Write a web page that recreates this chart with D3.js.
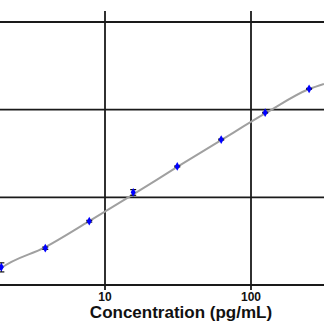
<!DOCTYPE html>
<html><head><meta charset="utf-8">
<script src="https://cdn.jsdelivr.net/npm/d3@7"></script>
<style>html,body{margin:0;padding:0;background:#fff;}svg{display:block;}</style>
</head><body>
<script>
// Standard concentrations (pg/mL) and mean OD values
const concentrations = [1.95, 3.9, 7.8, 15.6, 31.25, 62.5, 125, 250];
const odValues = [0.016, 0.0263, 0.0534, 0.114, 0.225, 0.456, 0.924, 1.73];
const odErrors = [0.0019, 0.0008, 0.0012, 0.0085, 0.003, 0.006, 0.01, 0.02];
// Fitted curve
const fitConc = [1.91, 1.95, 3.9, 7.8, 15.6, 31.25, 62.5, 125, 250, 316];
const fitOD = [0.0152, 0.0156, 0.027, 0.0535, 0.108, 0.222, 0.45, 0.905, 1.72, 1.97];
const xTicks = [1, 10, 100, 1000];
const xTickLabels = ["1", "10", "100", "1000"];
const yTicks = [0.01, 0.1, 1, 10];
const xTitle = "Concentration (pg/mL)";

const W = 324, H = 324;
const svg = d3.select("body").append("svg").attr("width", W).attr("height", H);

const x = d3.scaleLog().domain([10, 100]).range([105, 251]);
const y = d3.scaleLog().domain([0.01, 10]).range([285, 22]);

// horizontal grid lines
svg.append("g").selectAll("line").data(yTicks).join("line")
  .attr("x1", 0).attr("x2", W)
  .attr("y1", d => y(d)).attr("y2", d => y(d))
  .attr("stroke", "#1a1a1a").attr("stroke-width", 1.8);

// vertical grid lines
svg.append("g").selectAll("line").data(xTicks.filter(d => x(d) > 0 && x(d) < W)).join("line")
  .attr("x1", d => x(d)).attr("x2", d => x(d))
  .attr("y1", 11).attr("y2", 290)
  .attr("stroke", "#1a1a1a").attr("stroke-width", 1.8);

// tick labels
svg.append("g").selectAll("text").data(xTicks.map((d, i) => ({v: d, l: xTickLabels[i]})).filter(d => x(d.v) > 5 && x(d.v) < W - 5)).join("text")
  .attr("x", d => x(d.v)).attr("y", 301)
  .attr("text-anchor", "middle")
  .attr("font-family", "Liberation Sans, Arial, sans-serif")
  .attr("font-weight", "bold").attr("font-size", 12)
  .attr("fill", "#111").text(d => d.l);

// axis title
svg.append("text").attr("x", 181).attr("y", 318)
  .attr("text-anchor", "middle")
  .attr("font-family", "Liberation Sans, Arial, sans-serif")
  .attr("font-weight", "bold").attr("font-size", 17)
  .attr("fill", "#111").text(xTitle);

// fitted curve
const line = d3.line().x(d => x(d[0])).y(d => y(d[1])).curve(d3.curveMonotoneX);
svg.append("path").datum(fitConc.map((c, i) => [c, fitOD[i]]))
  .attr("d", line).attr("fill", "none")
  .attr("stroke", "#a0a0a0").attr("stroke-width", 2);

// error bars
const pts = concentrations.map((c, i) => ({c, v: odValues[i], e: odErrors[i]}));
const eb = svg.append("g");
pts.forEach(p => {
  const px = x(p.c), y1 = y(p.v + p.e), y2 = y(p.v - p.e);
  eb.append("line").attr("x1", px).attr("x2", px).attr("y1", y1).attr("y2", y2).attr("stroke", "#111").attr("stroke-width", 1);
  eb.append("line").attr("x1", px - 3).attr("x2", px + 3).attr("y1", y1).attr("y2", y1).attr("stroke", "#111").attr("stroke-width", 1.2);
  eb.append("line").attr("x1", px - 3).attr("x2", px + 3).attr("y1", y2).attr("y2", y2).attr("stroke", "#111").attr("stroke-width", 1.2);
});

// markers
svg.append("g").selectAll("path").data(pts).join("path")
  .attr("transform", d => `translate(${x(d.c)},${y(d.v)})`)
  .attr("d", d3.symbol(d3.symbolDiamond, 22))
  .attr("fill", "#0000ff");
</script>
</body></html>
